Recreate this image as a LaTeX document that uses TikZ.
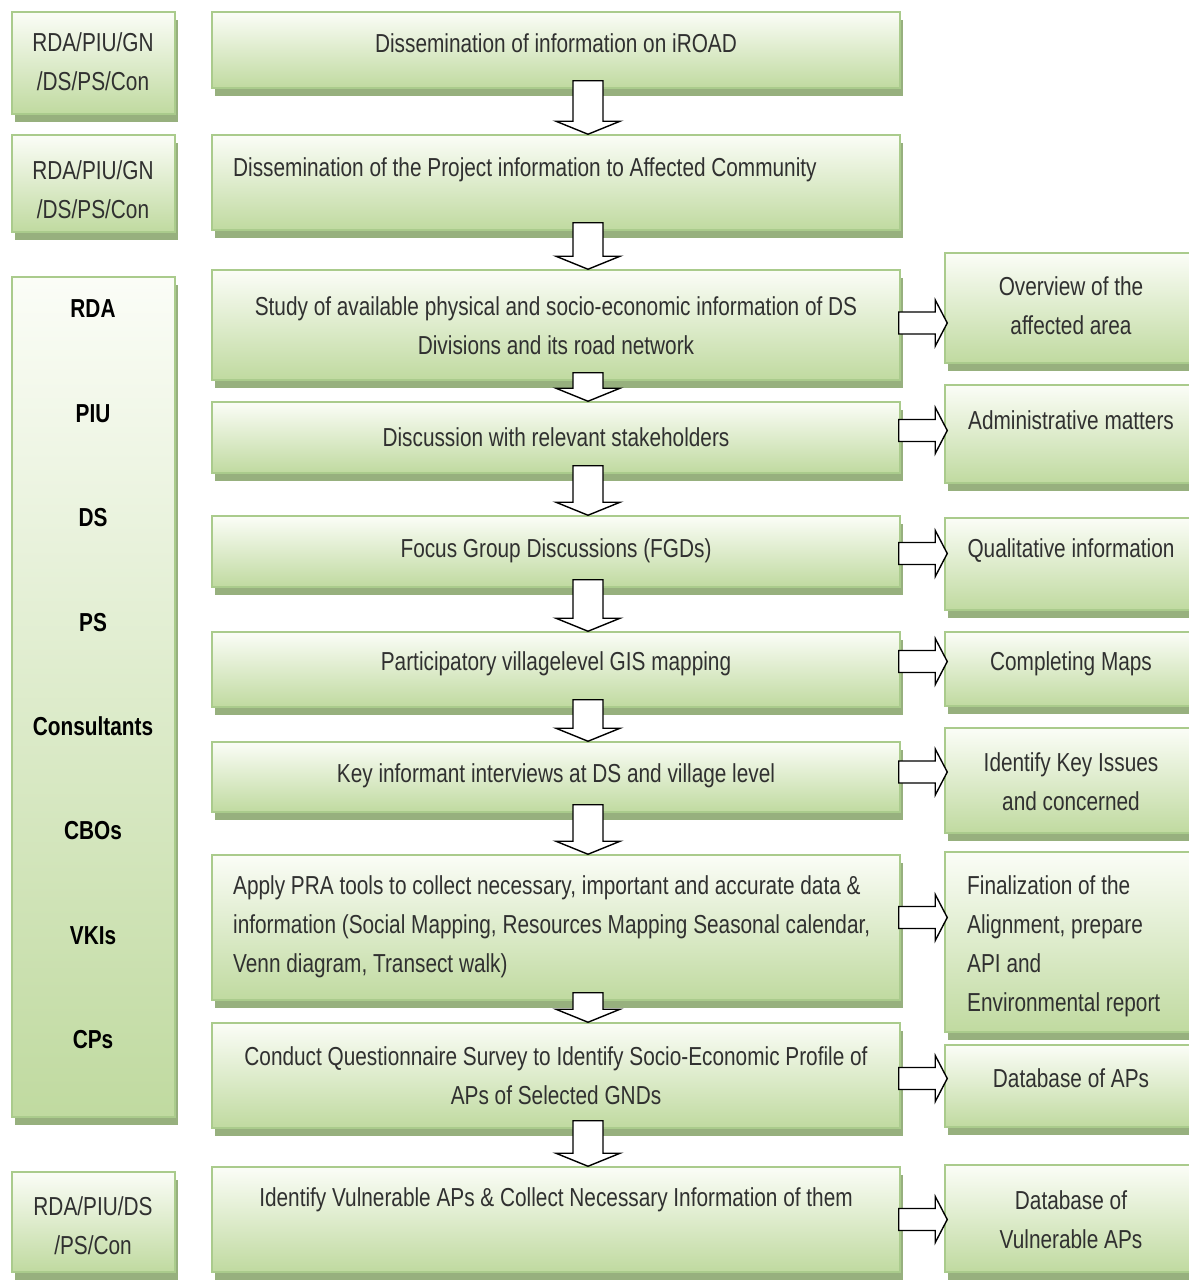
\documentclass[tikz,border=0pt]{standalone}
\usepackage{fontspec}
\setmainfont{Liberation Sans}[FakeStretch=0.8]
\usepackage{tikz}
\usetikzlibrary{shadows, fit, calc}

\definecolor{gtop}{HTML}{FBFDF7}
\definecolor{gbot}{HTML}{C0DAA0}
\definecolor{gline}{HTML}{AACB8C}
\definecolor{gshade}{HTML}{97B07E}
\definecolor{ink}{HTML}{303030}

\tikzset{
  gbox/.style={draw=gline, line width=1.5pt, top color=gtop, bottom color=gbot, inner sep=0pt,
    drop shadow={shadow xshift=3pt, shadow yshift=-8pt, fill=gshade, opacity=1}},
  txt/.style={font=\fontsize{26}{39}\selectfont, text=ink, inner sep=0pt, align=center},
  who/.style={font=\fontsize{26}{39}\selectfont\bfseries, text=black, inner sep=0pt},
  blockarr/.style={draw=black, fill=white, line width=1.4pt, line join=miter}
}

\newcommand{\dnarrow}[2]{%
  \draw[blockarr] ($(#1.south)+(17,-8)$) -- ($(#2.north)+(17,-13)$) -- ($(#2.north)+(0,-13)$)
    -- ($(#2.north)+(32,0)$) -- ($(#2.north)+(64,-13)$) -- ($(#2.north)+(47,-13)$)
    -- ($(#1.south)+(47,-8)$) -- cycle;}
\newcommand{\rtarrow}[3]{%
  \draw[blockarr] ($(#1.east)+(-2,#3-11)$) -- ($(#1.east -| #2.west)+(-9,#3-11)$)
    -- ($(#1.east -| #2.west)+(-9,#3-23)$) -- ($(#1.east -| #2.west)+(3,#3)$)
    -- ($(#1.east -| #2.west)+(-9,#3+23)$) -- ($(#1.east -| #2.west)+(-9,#3+11)$)
    -- ($(#1.east)+(-2,#3+11)$) -- cycle;}

\begin{document}
\begin{tikzpicture}[x=1pt, y=-1pt]
  \fill[white] (0,0) rectangle (1188,1281);
  \useasboundingbox (0,0) rectangle (1188,1281);

  \node[gbox, fit={(12,12) (175,114)}] (l1) {};
  \node[gbox, fit={(12,135) (175,232)}] (l2) {};
  \node[gbox, fit={(12,277) (175,1117)}] (l3) {};
  \node[gbox, fit={(12,1172) (175,1272)}] (l4) {};

  \node[gbox, fit={(212,12) (900,88)}] (c1) {};
  \node[gbox, fit={(212,135) (900,230)}] (c2) {};
  \node[gbox, fit={(212,270) (900,380)}] (c3) {};
  \node[gbox, fit={(212,402) (900,473)}] (c4) {};
  \node[gbox, fit={(212,516) (900,587)}] (c5) {};
  \node[gbox, fit={(212,632) (900,707)}] (c6) {};
  \node[gbox, fit={(212,742) (900,812)}] (c7) {};
  \node[gbox, fit={(212,855) (900,1000)}] (c8) {};
  \node[gbox, fit={(212,1023) (900,1128)}] (c9) {};
  \node[gbox, fit={(212,1167) (900,1272)}] (c10) {};

  \node[gbox, fit={(945,253) (1190,363)}] (r1) {};
  \node[gbox, fit={(945,385) (1190,483)}] (r2) {};
  \node[gbox, fit={(945,518) (1190,610)}] (r3) {};
  \node[gbox, fit={(945,632) (1190,706)}] (r4) {};
  \node[gbox, fit={(945,728) (1190,833)}] (r5) {};
  \node[gbox, fit={(945,852) (1190,1032)}] (r6) {};
  \node[gbox, fit={(945,1045) (1190,1127)}] (r7) {};
  \node[gbox, fit={(945,1165) (1190,1272)}] (r8) {};

  \node[txt] (t-l1) at (93,62) {RDA/PIU/GN\\/DS/PS/Con};
  \node[txt] (t-l2) at (93,190) {RDA/PIU/GN\\/DS/PS/Con};
  \node[txt] (t-l4) at (93,1226) {RDA/PIU/DS\\/PS/Con};
  \foreach \w [count=\i] in {RDA, PIU, DS, PS, Consultants, CBOs, VKIs, CPs}
    \node[who] (w-\i) at (93,{309+104.4*(\i-1)}) {\w};

  \node[txt] (t-c1) at (556,43) {Dissemination of information on iROAD};
  \node[txt, anchor=west] (t-c2) at (233,170) {Dissemination of the Project information to Affected Community};
  \node[txt] (t-c3) at (556,326) {Study of available physical and socio-economic information of DS\\Divisions and its road network};
  \node[txt] (t-c4) at (556,437) {Discussion with relevant stakeholders};
  \node[txt] (t-c5) at (556,551) {Focus Group Discussions (FGDs)};
  \node[txt] (t-c6) at (556,664) {Participatory villagelevel GIS mapping};
  \node[txt] (t-c7) at (556,776) {Key informant interviews at DS and village level};
  \node[txt, anchor=west, align=left] (t-c8) at (233,927) {Apply PRA tools to collect necessary, important and accurate data \&\\information (Social Mapping, Resources Mapping Seasonal calendar,\\Venn diagram, Transect walk)};
  \node[txt] (t-c9) at (556,1076) {Conduct Questionnaire Survey to Identify Socio-Economic Profile of\\APs of Selected GNDs};
  \node[txt] (t-c10) at (556,1200) {Identify Vulnerable APs \& Collect Necessary Information of them};

  \node[txt] (t-r1) at (1071,306) {Overview of the\\affected area};
  \node[txt] (t-r2) at (1071,420) {Administrative matters};
  \node[txt] (t-r3) at (1071,551) {Qualitative information};
  \node[txt] (t-r4) at (1071,664) {Completing Maps};
  \node[txt] (t-r5) at (1071,782) {Identify Key Issues\\and concerned};
  \node[txt, anchor=west, align=left] (t-r6) at (967,946) {Finalization of the\\Alignment, prepare\\API and\\Environmental report};
  \node[txt] (t-r7) at (1071,1078) {Database of APs};
  \node[txt] (t-r8) at (1071,1220) {Database of\\Vulnerable APs};

  \foreach \a/\b in {c1/c2, c2/c3, c3/c4, c4/c5, c5/c6, c6/c7, c7/c8, c8/c9, c9/c10}
    \dnarrow{\a}{\b};
  \foreach \a/\b/\d in {c3/r1/-2, c4/r2/-7, c5/r3/2, c6/r4/-8, c7/r5/-5, c8/r6/-10, c9/r7/3, c10/r8/0}
    \rtarrow{\a}{\b}{\d};
\end{tikzpicture}
\end{document}
